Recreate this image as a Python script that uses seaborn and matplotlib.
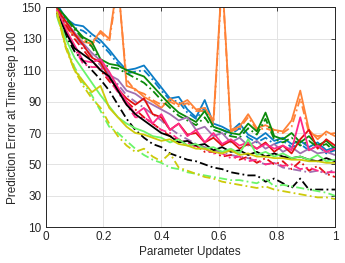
import matplotlib
matplotlib.use("Agg")
import matplotlib.pyplot as plt
import seaborn as sns
import pandas as pd

updates = [0.04, 0.07, 0.10, 0.13, 0.16, 0.19, 0.22, 0.25, 0.28, 0.31, 0.34,
           0.37, 0.40, 0.43, 0.46, 0.49, 0.52, 0.55, 0.58, 0.61, 0.64, 0.67,
           0.70, 0.73, 0.76, 0.79, 0.82, 0.85, 0.88, 0.91, 0.94, 0.97, 1.00]

blue_solid = [152, 143, 139, 138, 133, 129, 123, 116, 110, 111, 113, 106, 99, 92, 93, 85, 80,
              91, 76, 74, 71, 76, 69, 66, 70, 65, 67, 63, 65, 61, 64, 59, 61]
blue_dash = [150, 142, 137, 135, 131, 127, 121, 114, 108, 109, 110, 104, 97, 91, 90, 83, 79,
             86, 74, 72, 69, 73, 67, 64, 67, 63, 65, 61, 63, 59, 62, 57, 59]
orange_solid = [150, 137, 132, 128, 127, 135, 130, 168, 100, 98, 93, 90, 86, 92, 88, 91, 85,
                86, 78, 170, 72, 74, 82, 73, 75, 72, 71, 78, 97, 72, 66, 71, 68]
orange_dash = [150, 138, 133, 130, 126, 134, 128, 165, 104, 97, 95, 91, 88, 90, 87, 89, 84,
               84, 76, 168, 71, 73, 80, 72, 73, 71, 70, 74, 92, 70, 68, 69, 70]
green_solid = [150, 144, 137, 131, 128, 117, 114, 113, 110, 108, 106, 100, 94, 88, 83, 80, 77,
               84, 74, 72, 70, 69, 76, 71, 83, 68, 66, 70, 64, 68, 62, 65, 60]
green_dash = [150, 143, 136, 130, 125, 115, 112, 111, 108, 105, 102, 97, 91, 86, 81, 78, 75,
              80, 72, 70, 68, 67, 73, 69, 79, 66, 64, 67, 62, 65, 61, 63, 58]
purple_solid = [148, 141, 134, 127, 121, 116, 107, 104, 97, 95, 91, 88, 85, 82, 78, 80, 72,
                74, 68, 70, 64, 67, 62, 65, 60, 63, 58, 61, 57, 60, 57, 58, 56]
purple_dash = [147, 139, 132, 125, 119, 113, 105, 101, 94, 90, 86, 82, 78, 73, 69, 66, 63,
               61, 59, 58, 56, 55, 54, 52, 50, 51, 48, 47, 46, 45, 46, 44, 47]
red_solid = [149, 141, 133, 126, 118, 115, 105, 98, 92, 88, 92, 82, 80, 72, 76, 69, 70,
             64, 67, 62, 65, 60, 63, 60, 64, 58, 62, 57, 66, 72, 60, 66, 62]
red_dash = [148, 139, 130, 123, 116, 110, 103, 97, 90, 85, 80, 76, 72, 68, 66, 62, 62,
            58, 58, 55, 56, 53, 55, 51, 54, 50, 52, 47, 52, 46, 49, 44, 42]
pink_solid = [148, 136, 126, 116, 115, 117, 109, 99, 90, 82, 86, 76, 82, 72, 76, 68, 72,
              64, 70, 63, 66, 62, 64, 60, 63, 60, 62, 59, 80, 59, 62, 58, 60]
pink_dash = [147, 134, 124, 114, 112, 112, 104, 96, 88, 80, 80, 76, 72, 70, 66, 64, 61,
             60, 57, 57, 54, 55, 52, 53, 50, 51, 49, 50, 47, 48, 46, 45, 45]
black_solid = [146, 134, 124, 120, 116, 110, 106, 97, 88, 82, 78, 74, 70, 68, 64, 65, 62,
               63, 59, 61, 58, 59, 56, 58, 55, 57, 55, 54, 55, 53, 52, 54, 52]
black_dash = [145, 132, 122, 116, 110, 104, 97, 88, 79, 72, 67, 63, 61, 57, 55, 53, 52,
              50, 48, 47, 45, 44, 43, 43, 39, 41, 38, 35, 41, 34, 34, 34, 34]
lime_solid = [145, 130, 118, 110, 102, 94, 87, 80, 76, 73, 71, 68, 67, 64, 66, 62, 63,
              60, 61, 58, 60, 57, 66, 56, 58, 55, 57, 54, 55, 53, 56, 52, 53]
lime_dash = [144, 126, 112, 102, 94, 84, 74, 70, 65, 60, 56, 53, 51, 48, 47, 45, 44,
             43, 42, 41, 40, 40, 39, 38, 41, 36, 37, 36, 35, 34, 33, 32, 30]
yellow_solid = [147, 125, 110, 103, 96, 100, 86, 80, 74, 70, 69, 67, 65, 66, 63, 62, 60,
                60, 58, 57, 59, 56, 57, 55, 55, 54, 54, 53, 53, 52, 52, 51, 51]
yellow_dash = [146, 124, 110, 100, 92, 86, 76, 68, 62, 58, 60, 55, 52, 57, 48, 46, 44,
               42, 41, 39, 38, 37, 36, 35, 36, 34, 33, 32, 31, 30, 29, 29, 28]

series = [
    ("blue", "solid", blue_solid), ("blue", "dashdot", blue_dash),
    ("orange", "solid", orange_solid), ("orange", "dashdot", orange_dash),
    ("green", "solid", green_solid), ("green", "dashdot", green_dash),
    ("purple", "solid", purple_solid), ("purple", "dashdot", purple_dash),
    ("red", "solid", red_solid), ("red", "dashdot", red_dash),
    ("pink", "solid", pink_solid), ("pink", "dashdot", pink_dash),
    ("black", "solid", black_solid), ("black", "dashdot", black_dash),
    ("lime", "solid", lime_solid), ("lime", "dashdot", lime_dash),
    ("yellow", "solid", yellow_solid), ("yellow", "dashdot", yellow_dash),
]

colors = {"blue": "#0A7CC6", "orange": "#FF8237", "green": "#0A8A0A", "purple": "#A070B0",
          "red": "#E01010", "pink": "#FF2A85", "black": "#000000", "lime": "#6AF56A",
          "yellow": "#CDCA0A"}

sns.set_style("whitegrid")
plt.rcParams['font.family'] = ['Liberation Sans', 'DejaVu Sans']

fig, ax = plt.subplots(figsize=(3.45, 2.63), dpi=100)
fig.subplots_adjust(left=0.132, right=0.971, top=0.972, bottom=0.136)

for name, kind, vals in series:
    df = pd.DataFrame({"update": updates, "error": vals})
    ls = "-" if kind == "solid" else (0, (4.5, 1.8, 1, 1.8))
    sns.lineplot(data=df, x="update", y="error", ax=ax, color=colors[name],
                 linestyle=ls, linewidth=1.3)

ax.set_xlim(0, 1)
ax.set_ylim(10, 150)
ax.set_xticks([0, 0.2, 0.4, 0.6, 0.8, 1])
ax.set_xticklabels(["0", "0.2", "0.4", "0.6", "0.8", "1"])
ax.set_yticks([10, 30, 50, 70, 90, 110, 130, 150])
ax.tick_params(direction="in", length=3, width=0.6, labelsize=8.5,
               colors="#262626", top=True, right=True, pad=3)
ax.grid(True, color="#E3E3E3", linewidth=0.7)
for s in ax.spines.values():
    s.set_color("#262626")
    s.set_linewidth(0.7)
ax.set_xlabel("Parameter Updates", fontsize=8.5, color="#262626", labelpad=2)
ax.set_ylabel("Prediction Error at Time-step 100", fontsize=8.5, color="#262626", labelpad=2)

fig.savefig("out.png", dpi=100)
